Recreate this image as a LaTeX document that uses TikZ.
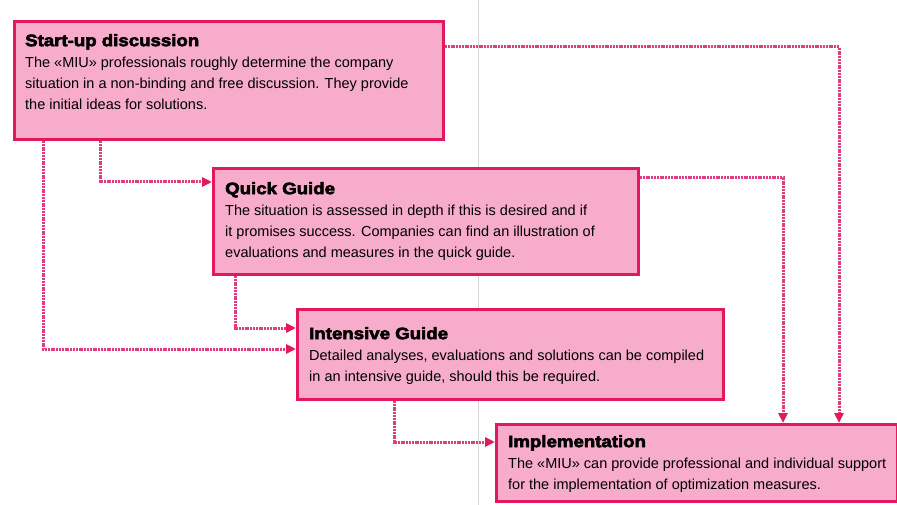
\documentclass[tikz,border=0pt]{standalone}
\usepackage{fontspec}
\setmainfont{Liberation Sans}
\newfontfamily\headfont[UprightFont={* Bold},FakeBold=3.5,FakeStretch=1.13]{Liberation Sans}
\usetikzlibrary{arrows.meta}

\definecolor{miupink}{RGB}{246,172,202}
\definecolor{miured}{RGB}{228,24,92}
\definecolor{miulink}{RGB}{222,62,128}

\newcommand{\steptitle}[1]{{\headfont\fontsize{16.5}{21}\selectfont #1}}

\begin{document}
\begin{tikzpicture}[x=1pt,y=-1pt]
    \tikzstyle{box}=[rectangle,draw=miured,fill=miupink,line width=3pt,anchor=north west]
    \tikzstyle{txt}=[anchor=north west,inner sep=0pt,align=left,font=\fontsize{14.5}{21}\selectfont]
    \tikzstyle{link}=[draw=miulink,line width=3pt,dash pattern=on 2pt off 0.8pt,
                      -{Triangle[length=10pt,width=9pt,color=miured]}]
    \useasboundingbox (0,0) rectangle (897,505);

    % fold of the leaflet
    \draw[gray!30,line width=0.8pt] (478,0) -- (478,505);

    % the four steps
    \node[box,minimum width=429pt,minimum height=118pt] (start)  at (13,20)  {};
    \node[box,minimum width=425pt,minimum height=106pt] (quick)  at (212,167) {};
    \node[box,minimum width=426pt,minimum height=90pt]  (intens) at (296,308) {};
    \node[box,minimum width=401pt,minimum height=77pt]  (impl)   at (495,423) {};

    \node[txt] (startT) at (25,34) {\steptitle{Start-up discussion}\\
        The «MIU» professionals roughly determine the company\\
        situation in a non-binding and free discussion. They provide\\
        the initial ideas for solutions.};
    \node[txt] (quickT) at (225,182) {\steptitle{Quick Guide}\\
        The situation is assessed in depth if this is desired and if\\
        it promises success. Companies can find an illustration of\\
        evaluations and measures in the quick guide.};
    \node[txt] (intensT) at (309,327) {\steptitle{Intensive Guide}\\
        Detailed analyses, evaluations and solutions can be compiled\\
        in an intensive guide, should this be required.};
    \node[txt] (implT) at (508,435) {\steptitle{Implementation}\\
        The «MIU» can provide professional and individual support\\
        for the implementation of optimization measures.};

    % links between the steps
    \draw[link] (start.east |- 0,47)   -| (impl.north -| 839,0);
    \draw[link] (quick.east |- 0,178)  -| (impl.north -| 783,0);
    \draw[link] (start.south -| 100,0) |- (quick.west |- 0,182);
    \draw[link] (start.south -| 43,0)  |- (intens.west |- 0,349);
    \draw[link] (quick.south -| 235,0) |- (intens.west |- 0,328);
    \draw[link] (intens.south -| 394,0) |- (impl.west |- 0,442);

\end{tikzpicture}
\end{document}
